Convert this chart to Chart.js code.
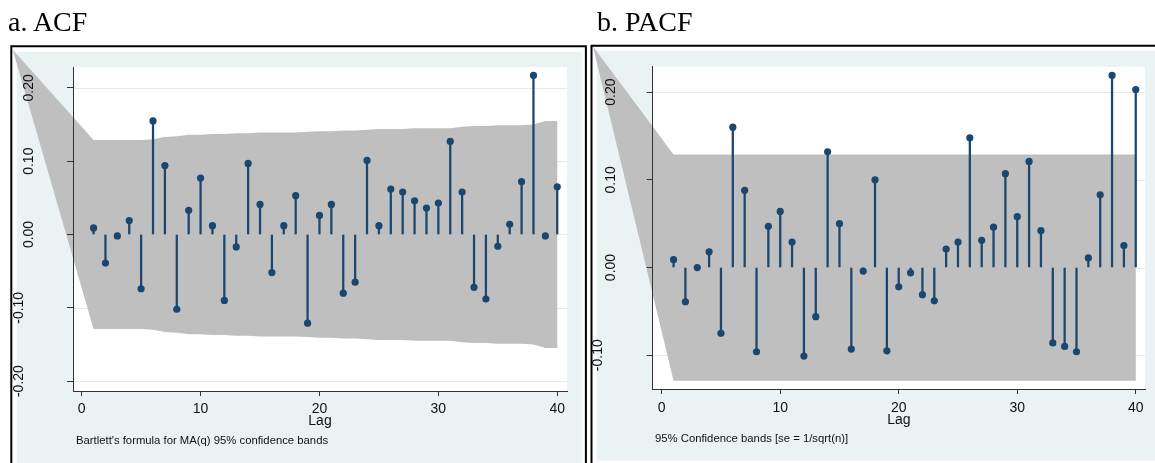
<!DOCTYPE html>
<html lang="en">
<head>
<meta charset="UTF-8">
<title>ACF / PACF</title>
<script src="https://cdn.jsdelivr.net/npm/chart.js"></script>
<style>
  body { margin: 0; background: #fff; }
  #page { position: relative; width: 1155px; height: 463px; overflow: hidden; }
  canvas { position: absolute; top: 0; }
  .title { position: absolute; top: 8px; font: 28px "Liberation Serif", "Times New Roman", serif; line-height: 28px; color: #000; white-space: nowrap; }
  .note { position: absolute; font: 11.3px "Liberation Sans", Arial, sans-serif; line-height: 13px; color: #111; white-space: nowrap; }
</style>
</head>
<body>
<div id="page">
  <canvas id="acf" width="588" height="463" style="left:0"></canvas>
  <canvas id="pacf" width="567" height="463" style="left:588px"></canvas>
  <div class="title" style="left:8px">a. ACF</div>
  <div class="title" style="left:597px">b. PACF</div>
  <div class="note" style="left:76px; top:434px">Bartlett's formula for MA(q) 95% confidence bands</div>
  <div class="note" style="left:655px; top:432px">95% Confidence bands [se = 1/sqrt(n)]</div>
</div>
<script>
const lags = [1, 2, 3, 4, 5, 6, 7, 8, 9, 10, 11, 12, 13, 14, 15, 16, 17, 18, 19, 20,
              21, 22, 23, 24, 25, 26, 27, 28, 29, 30, 31, 32, 33, 34, 35, 36, 37, 38, 39, 40];

const acfValues = [0.009, -0.039, -0.002, 0.019, -0.074, 0.155, 0.094, -0.102, 0.033, 0.077,
                   0.012, -0.090, -0.017, 0.097, 0.041, -0.052, 0.012, 0.053, -0.121, 0.026,
                   0.041, -0.080, -0.065, 0.101, 0.012, 0.062, 0.058, 0.046, 0.036, 0.043,
                   0.127, 0.058, -0.072, -0.088, -0.016, 0.014, 0.072, 0.217, -0.002, 0.065];
// Bartlett band half-width per lag
const acfBand = [0.129, 0.129, 0.129, 0.129, 0.129, 0.130, 0.133, 0.134, 0.136, 0.136,
                 0.137, 0.137, 0.138, 0.138, 0.139, 0.139, 0.139, 0.139, 0.140, 0.141,
                 0.141, 0.142, 0.142, 0.143, 0.144, 0.144, 0.144, 0.145, 0.145, 0.145,
                 0.145, 0.147, 0.148, 0.148, 0.149, 0.149, 0.149, 0.150, 0.155, 0.155];

const pacfValues = [0.009, -0.039, 0.000, 0.018, -0.075, 0.160, 0.088, -0.096, 0.047, 0.064,
                    0.029, -0.101, -0.056, 0.132, 0.050, -0.093, -0.004, 0.100, -0.095, -0.022,
                    -0.006, -0.031, -0.038, 0.021, 0.029, 0.148, 0.031, 0.046, 0.107, 0.058,
                    0.121, 0.042, -0.086, -0.090, -0.096, 0.011, 0.083, 0.219, 0.025, 0.203];
// 1.96/sqrt(n) band
const pacfBand = [0.129, 0.129, 0.129, 0.129, 0.129, 0.129, 0.129, 0.129, 0.129, 0.129,
                  0.129, 0.129, 0.129, 0.129, 0.129, 0.129, 0.129, 0.129, 0.129, 0.129,
                  0.129, 0.129, 0.129, 0.129, 0.129, 0.129, 0.129, 0.129, 0.129, 0.129,
                  0.129, 0.129, 0.129, 0.129, 0.129, 0.129, 0.129, 0.129, 0.129, 0.129];

// where the band edges meet, off the left of the plot region
const bandApex = { lag: -5.8, value: 0.252 };

const acfYTicks = [-0.2, -0.1, 0, 0.1, 0.2];
const pacfYTicks = [-0.1, 0, 0.1, 0.2];
const xTicks = [0, 10, 20, 30, 40];

const navy = '#1a476f';
const sans = "'Liberation Sans', Arial, sans-serif";

function makePanel(id, values, band, yTicks, lay) {
    const points = lags.map((l, i) => ({ x: l, y: values[i] }));

    const panelPlugin = {
        id: 'panel',
        beforeDraw(chart) {
            const c = chart.ctx, a = chart.chartArea;
            c.save();
            c.fillStyle = '#fff';
            c.fillRect(0, 0, chart.width, chart.height);
            c.fillStyle = '#eaf2f3';
            c.fillRect(lay.bg[0], lay.bg[1], lay.bg[2] - lay.bg[0], lay.bg[3] - lay.bg[1]);
            c.fillStyle = '#fff';
            c.fillRect(a.left, a.top, a.right - a.left, a.bottom - a.top);
            c.strokeStyle = '#000';
            c.lineWidth = 2;
            c.beginPath();
            c.moveTo(lay.frame[0], chart.height + 5);
            c.lineTo(lay.frame[0], lay.frame[1]);
            c.lineTo(lay.frame[2], lay.frame[1]);
            c.lineTo(lay.frame[2], chart.height + 5);
            c.stroke();
            c.restore();
        },
        beforeDatasetsDraw(chart) {
            const c = chart.ctx, a = chart.chartArea;
            const xs = chart.scales.x, ys = chart.scales.y;
            c.save();
            // light grid lines, hidden under the band
            c.strokeStyle = '#e3eced';
            c.lineWidth = 1;
            ys.ticks.forEach(t => {
                const y = Math.round(ys.getPixelForValue(t.value)) + 0.5;
                c.beginPath();
                c.moveTo(a.left, y);
                c.lineTo(a.right, y);
                c.stroke();
            });
            // confidence band
            c.beginPath();
            c.rect(lay.clip[0], lay.clip[1], lay.clip[2] - lay.clip[0], lay.clip[3] - lay.clip[1]);
            c.clip();
            c.beginPath();
            c.moveTo(xs.getPixelForValue(bandApex.lag), ys.getPixelForValue(bandApex.value));
            lags.forEach((l, i) => c.lineTo(xs.getPixelForValue(l), ys.getPixelForValue(band[i])));
            for (let i = lags.length - 1; i >= 0; i--) {
                c.lineTo(xs.getPixelForValue(lags[i]), ys.getPixelForValue(-band[i]));
            }
            c.closePath();
            c.fillStyle = '#bfbfbf';
            c.fill();
            c.restore();
        },
        afterDraw(chart) {
            // vertical y labels, as Stata sets them
            const c = chart.ctx, ys = chart.scales.y;
            c.save();
            c.fillStyle = '#111';
            c.font = '14px ' + sans;
            c.textAlign = 'center';
            c.textBaseline = 'middle';
            ys.ticks.forEach(t => {
                const x = t.value < 0 ? lay.labelXNeg : lay.labelX;
                c.save();
                c.translate(x, ys.getPixelForValue(t.value));
                c.rotate(-Math.PI / 2);
                c.fillText(t.value.toFixed(2), 0, 0);
                c.restore();
            });
            c.restore();
        }
    };

    return new Chart(document.getElementById(id), {
        type: 'bar',
        data: {
            datasets: [
                {
                    type: 'line',
                    data: points,
                    showLine: false,
                    pointRadius: 3.6,
                    pointHoverRadius: 3.6,
                    pointBackgroundColor: navy,
                    pointBorderWidth: 0,
                    order: 0
                },
                {
                    type: 'bar',
                    data: points,
                    backgroundColor: navy,
                    borderWidth: 0,
                    barThickness: 1.6,
                    order: 1
                }
            ]
        },
        options: {
            responsive: false,
            animation: false,
            events: [],
            layout: { padding: { top: lay.top, right: lay.right, left: 0, bottom: 0 } },
            plugins: { legend: { display: false }, tooltip: { enabled: false } },
            scales: {
                x: {
                    type: 'linear',
                    min: lay.xMin,
                    max: lay.xMax,
                    offset: false,
                    afterBuildTicks: s => { s.ticks = xTicks.map(v => ({ value: v })); },
                    afterFit: s => { s.height = lay.xAxisH; },
                    grid: { drawOnChartArea: false, offset: false, tickLength: 5, tickColor: '#333' },
                    border: { color: '#333', width: 1 },
                    ticks: { color: '#111', font: { family: sans, size: 14 }, padding: lay.xTickPad, maxRotation: 0, autoSkip: false },
                    title: { display: true, text: 'Lag', color: '#111', font: { family: sans, size: 14 },
                             padding: { top: 0, bottom: lay.titlePad } }
                },
                y: {
                    type: 'linear',
                    min: lay.yMin,
                    max: lay.yMax,
                    afterBuildTicks: s => { s.ticks = yTicks.map(v => ({ value: v })); },
                    afterFit: s => { s.width = lay.yAxisW; },
                    grid: { drawOnChartArea: false, tickLength: 6, tickColor: '#333', z: 1 },
                    border: { color: '#333', width: 1, z: 1 },
                    ticks: { display: false }
                }
            }
        },
        plugins: [panelPlugin]
    });
}

makePanel('acf', acfValues, acfBand, acfYTicks, {
    top: 67, right: 21, yAxisW: 73, xAxisH: 72,
    xMin: -0.73, xMax: 40.82, yMin: -0.2135, yMax: 0.2285,
    xTickPad: 4.4, titlePad: 33,
    labelX: 29.2, labelXNeg: 19.5,
    bg: [16.7, 51.7, 581.7, 463],
    frame: [11.3, 46.3, 585.9],
    clip: [12.3, 47.3, 585, 463]
});

makePanel('pacf', pacfValues, pacfBand, pacfYTicks, {
    top: 66.7, right: 10, yAxisW: 64.7, xAxisH: 74,
    xMin: -0.76, xMax: 40.78, yMin: -0.1385, yMax: 0.229,
    xTickPad: 5.7, titlePad: 34.6,
    labelX: 22.7, labelXNeg: 10.3,
    bg: [8.7, 50.7, 567, 460.7],
    frame: [3.5, 45.7, 580],
    clip: [4.5, 46.7, 567, 463]
});
</script>
</body>
</html>
